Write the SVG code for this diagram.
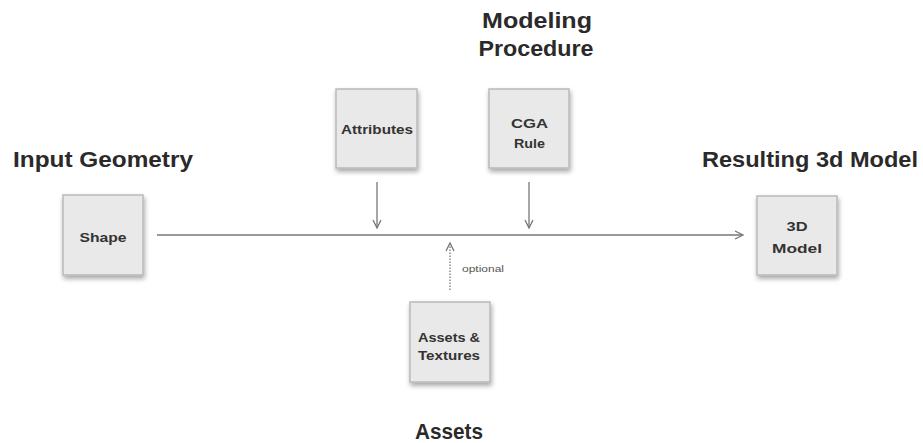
<svg xmlns="http://www.w3.org/2000/svg" width="923" height="443" viewBox="0 0 923 443">
<style>
.title{font-family:"Liberation Sans",Arial,sans-serif;font-weight:bold;font-size:22px;fill:#2a2a2a}
.lbl{font-family:"Liberation Sans",Arial,sans-serif;font-weight:bold;font-size:13px;fill:#333;text-anchor:middle}
.box{fill:#e9e9e9;stroke:#b9b9b9;stroke-width:1.5;filter:url(#sh)}
.conn{stroke:#777;stroke-width:1.3;fill:none}
</style>
<defs>
<filter id="sh" x="-20%" y="-20%" width="150%" height="150%">
<feGaussianBlur in="SourceAlpha" stdDeviation="2.5"/>
<feOffset dx="1" dy="3" result="b"/>
<feComponentTransfer><feFuncA type="linear" slope="0.35"/></feComponentTransfer>
<feMerge><feMergeNode/><feMergeNode in="SourceGraphic"/></feMerge>
</filter>
<marker id="ah" viewBox="0 0 10 10" refX="9" refY="5" markerWidth="10" markerHeight="10" markerUnits="userSpaceOnUse" orient="auto">
<path d="M1,1 L9,5 L1,9" fill="none" stroke="#777" stroke-width="1.3"/>
</marker>
</defs>
<text class="title" x="13" y="167" textLength="180" lengthAdjust="spacingAndGlyphs">Input Geometry</text>
<text class="title" x="537" y="28" text-anchor="middle" textLength="110" lengthAdjust="spacingAndGlyphs">Modeling</text>
<text class="title" x="536" y="56" text-anchor="middle" textLength="115" lengthAdjust="spacingAndGlyphs">Procedure</text>
<text class="title" x="702" y="167" textLength="216" lengthAdjust="spacingAndGlyphs">Resulting 3d Model</text>
<text class="title" x="415" y="439" textLength="68" lengthAdjust="spacingAndGlyphs">Assets</text>
<g id="connectors">
<line class="conn" x1="157" y1="235" x2="743" y2="235" marker-end="url(#ah)"/>
<line class="conn" x1="377" y1="182" x2="377" y2="228" marker-end="url(#ah)"/>
<line class="conn" x1="529" y1="182" x2="529" y2="228" marker-end="url(#ah)"/>
<line class="conn" x1="450" y1="290" x2="450" y2="243" stroke-dasharray="1.5 1.5" marker-end="url(#ah)"/>
<text x="462" y="272" textLength="42" lengthAdjust="spacingAndGlyphs" style="font-family:'Liberation Sans',Arial,sans-serif;font-size:9px;fill:#555">optional</text>
</g>
<g id="shape"><rect class="box" x="63" y="195" width="80" height="80"/><text class="lbl" x="103" y="242" textLength="47" lengthAdjust="spacingAndGlyphs">Shape</text></g>
<g id="attributes"><rect class="box" x="336" y="89" width="81" height="79"/><text class="lbl" x="377" y="134" textLength="72" lengthAdjust="spacingAndGlyphs">Attributes</text></g>
<g id="cga"><rect class="box" x="489" y="89" width="80" height="79"/><text class="lbl" x="529.5" y="128" textLength="37" lengthAdjust="spacingAndGlyphs">CGA</text><text class="lbl" x="529.5" y="148" textLength="31" lengthAdjust="spacingAndGlyphs">Rule</text></g>
<g id="assets"><rect class="box" x="410" y="302" width="80" height="80"/><text class="lbl" x="449" y="342" textLength="62" lengthAdjust="spacingAndGlyphs">Assets &amp;</text><text class="lbl" x="449" y="360" textLength="62" lengthAdjust="spacingAndGlyphs">Textures</text></g>
<g id="model"><rect class="box" x="757" y="196" width="80" height="79"/><text class="lbl" x="797" y="231" textLength="21" lengthAdjust="spacingAndGlyphs">3D</text><text class="lbl" x="797" y="253" textLength="50" lengthAdjust="spacingAndGlyphs">Model</text></g>
</svg>
